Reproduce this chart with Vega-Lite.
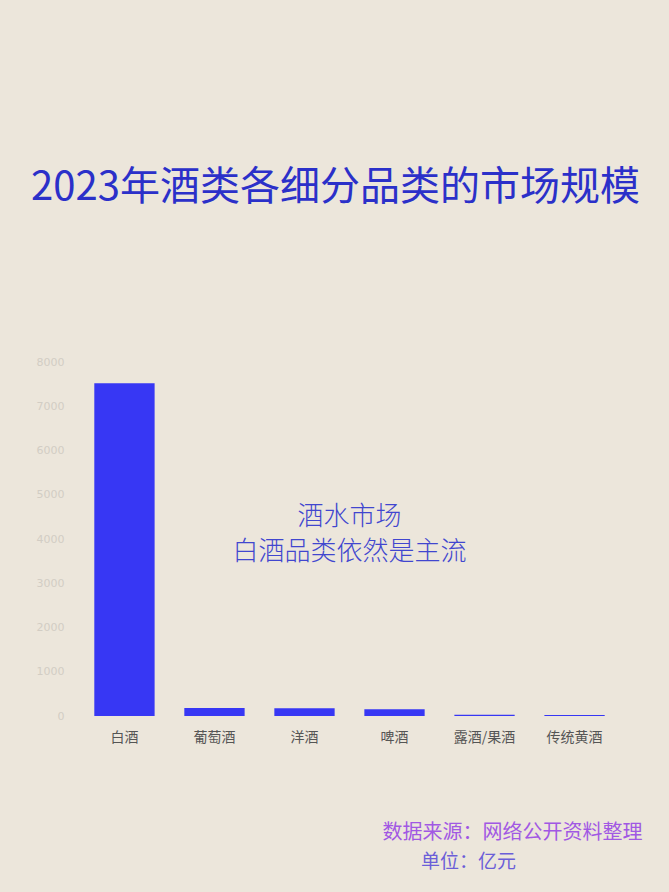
{
  "$schema": "https://vega.github.io/schema/vega-lite/v6.json",
  "autosize": {"type": "none"},
  "width": 541,
  "height": 354,
  "padding": {"left": 79, "top": 362, "right": 49, "bottom": 176},
  "background": "#ece6db",
  "title": {
    "text": "2023年酒类各细分品类的市场规模",
    "anchor": "middle",
    "offset": 148,
    "dx": -14,
    "fontSize": 40,
    "font": "Noto Sans CJK SC",
    "fontWeight": "normal",
    "color": "#2b30c9"
  },
  "config": {
    "view": {"stroke": null},
    "font": "Noto Sans CJK SC"
  },
  "datasets": {
    "bars": [
      {"品类": "白酒", "规模": 7520},
      {"品类": "葡萄酒", "规模": 180},
      {"品类": "洋酒", "规模": 175},
      {"品类": "啤酒", "规模": 150},
      {"品类": "露酒/果酒", "规模": 30},
      {"品类": "传统黄酒", "规模": 25}
    ],
    "notes": [
      {"text": "酒水市场\n白酒品类依然是主流", "anchor": "洋酒", "v": 4500}
    ],
    "foot1": [
      {"text": "数据来源：网络公开资料整理", "anchor": "露酒/果酒", "v": -2640}
    ],
    "foot2": [
      {"text": "单位：亿元", "anchor": "露酒/果酒", "v": -3300}
    ]
  },
  "layer": [
    {
      "data": {"name": "bars"},
      "mark": {"type": "bar", "color": "#3737f4"},
      "encoding": {
        "x": {
          "field": "品类",
          "type": "nominal",
          "sort": null,
          "scale": {"domain": ["白酒", "葡萄酒", "洋酒", "啤酒", "露酒/果酒", "传统黄酒"], "paddingInner": 0.33, "paddingOuter": 0.17},
          "axis": {
            "title": null,
            "labelAngle": 0,
            "domain": false,
            "ticks": false,
            "labelFontSize": 14,
            "labelColor": "#555555",
            "labelPadding": 14,
            "labelFont": "Noto Sans CJK SC"
          }
        },
        "y": {
          "field": "规模",
          "type": "quantitative",
          "scale": {"domain": [0, 8000]},
          "axis": {
            "title": null,
            "values": [0, 1000, 2000, 3000, 4000, 5000, 6000, 7000, 8000],
            "format": "d",
            "domain": false,
            "ticks": false,
            "grid": false,
            "labelFontSize": 11,
            "labelColor": "#d2cdc4",
            "labelPadding": 15,
            "labelFont": "DejaVu Sans"
          }
        }
      }
    },
    {
      "data": {"name": "notes"},
      "mark": {"type": "text", "fontSize": 26, "lineBreak": "\n", "lineHeight": 35, "color": "#4146cf", "dx": 45, "baseline": "middle", "font": "Noto Sans CJK SC", "fontWeight": 300},
      "encoding": {
        "x": {"field": "anchor", "type": "nominal", "sort": null},
        "y": {"field": "v", "type": "quantitative"},
        "text": {"field": "text"}
      }
    },
    {
      "data": {"name": "foot1"},
      "mark": {"type": "text", "fontSize": 20, "color": "#a158e3", "dx": 28, "baseline": "middle", "font": "Noto Sans CJK SC"},
      "encoding": {
        "x": {"field": "anchor", "type": "nominal", "sort": null},
        "y": {"field": "v", "type": "quantitative"},
        "text": {"field": "text"}
      }
    },
    {
      "data": {"name": "foot2"},
      "mark": {"type": "text", "fontSize": 19, "color": "#6b5ed8", "dx": -16, "baseline": "middle", "font": "Noto Sans CJK SC"},
      "encoding": {
        "x": {"field": "anchor", "type": "nominal", "sort": null},
        "y": {"field": "v", "type": "quantitative"},
        "text": {"field": "text"}
      }
    }
  ]
}
